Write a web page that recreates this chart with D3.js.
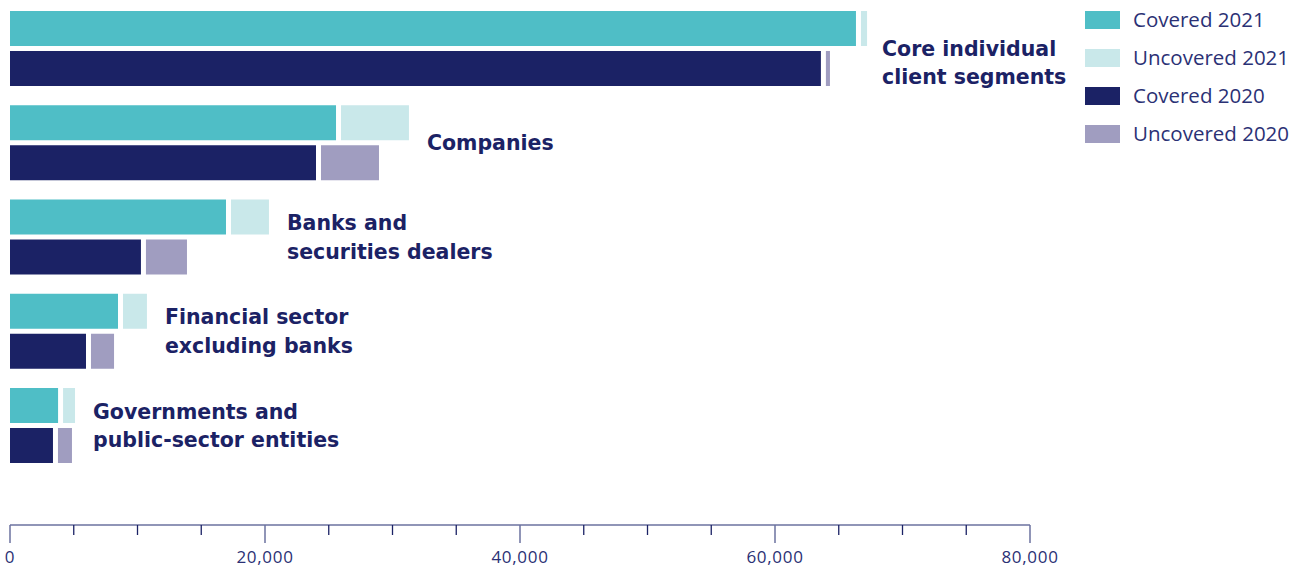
<!DOCTYPE html>
<html>
<head>
<meta charset="utf-8">
<script src="https://cdn.jsdelivr.net/npm/d3@7"></script>
<style>
  html, body { margin: 0; padding: 0; background: #ffffff; }
  svg { display: block; }
</style>
</head>
<body>
<svg id="chart" width="1304" height="570"></svg>
<script>
// Segment names and their lines of label text
const categories = [
  "Core individual client segments",
  "Companies",
  "Banks and securities dealers",
  "Financial sector excluding banks",
  "Governments and public-sector entities"
];
const categoryLines = [
  ["Core individual", "client segments"],
  ["Companies"],
  ["Banks and", "securities dealers"],
  ["Financial sector", "excluding banks"],
  ["Governments and", "public-sector entities"]
];

// Values per segment
const covered2021   = [66350, 25570, 16940, 8470, 3770];
const uncovered2021 = [870,   5720,  3370,  2270, 1330];
const covered2020   = [63600, 24000, 10270, 5960, 3370];
const uncovered2020 = [710,   4940,  3610,  2200, 1490];

const seriesNames = ["Covered 2021", "Uncovered 2021", "Covered 2020", "Uncovered 2020"];
const seriesColors = ["#4fbec6", "#c9e8ea", "#1b2265", "#a09dc0"];

const axisTicks = [0, 20000, 40000, 60000, 80000];
const minorTicks = d3.range(0, 80001, 5000);

const svg = d3.select("#chart");
const navy = "#1b2265";
const textColor = "#2b3175";

const x = d3.scaleLinear().domain([0, 80000]).range([10, 1030]);

const groupBand = d3.scaleBand()
  .domain(categories)
  .range([11, 482.25])
  .paddingInner(0)
  .paddingOuter(0);

const barH = 35;
const innerGap = 5;   // space between the 2021 and 2020 bars
const segGap = 5;     // white space separating covered and uncovered

const rows = categories.map((c, i) => ({
  cat: c, i,
  bars: [
    { cov: covered2021[i], unc: uncovered2021[i], cc: seriesColors[0], uc: seriesColors[1], y: groupBand(c) },
    { cov: covered2020[i], unc: uncovered2020[i], cc: seriesColors[2], uc: seriesColors[3], y: groupBand(c) + barH + innerGap }
  ]
}));

const g = svg.append("g");

rows.forEach(r => {
  r.bars.forEach(b => {
    g.append("rect")
      .attr("x", x(0))
      .attr("y", b.y)
      .attr("width", x(b.cov) - x(0))
      .attr("height", barH)
      .attr("fill", b.cc);
    g.append("rect")
      .attr("x", x(b.cov) + segGap)
      .attr("y", b.y)
      .attr("width", Math.max(0, x(b.cov + b.unc) - x(b.cov) - segGap))
      .attr("height", barH)
      .attr("fill", b.uc);
  });

  // Segment label sits just right of the longest bar
  const maxEnd = d3.max(r.bars, b => x(b.cov + b.unc));
  const lines = categoryLines[r.i];
  const center = groupBand(r.cat) + (2 * barH + innerGap) / 2;
  const lineH = 28.5;
  // first label drops half a line below its group centre
  const shift = r.i === 0 ? 14 : 0;
  const lx = maxEnd + (r.i === 0 ? 15 : 18);
  const t = g.append("text")
    .attr("x", lx)
    .attr("fill", navy)
    .attr("font-family", "'DejaVu Sans', sans-serif")
    .attr("font-weight", 700)
    .attr("font-size", 20.5);
  lines.forEach((ln, k) => {
    const cy = center + shift + (k - (lines.length - 1) / 2) * lineH;
    t.append("tspan")
      .attr("x", lx)
      .attr("y", cy)
      .attr("dy", "0.36em")
      .text(ln);
  });
});

// Axis
const axisY = 525;
const axisColor = "#6b729f";
const ax = svg.append("g").attr("transform", `translate(0,${axisY})`);
ax.append("line")
  .attr("x1", x(0)).attr("x2", x(80000))
  .attr("stroke", axisColor).attr("stroke-width", 1.5);
ax.selectAll("line.minor")
  .data(minorTicks.filter(v => !axisTicks.includes(v)))
  .join("line")
  .attr("class", "minor")
  .attr("x1", d => x(d)).attr("x2", d => x(d))
  .attr("y1", 0).attr("y2", 10)
  .attr("stroke", navy).attr("stroke-width", 1.3);
ax.selectAll("line.major")
  .data(axisTicks)
  .join("line")
  .attr("class", "major")
  .attr("x1", d => x(d)).attr("x2", d => x(d))
  .attr("y1", 0).attr("y2", 18)
  .attr("stroke", axisColor).attr("stroke-width", 1.5);
ax.selectAll("text")
  .data(axisTicks)
  .join("text")
  .attr("x", d => x(d))
  .attr("y", 38)
  .attr("text-anchor", "middle")
  .attr("fill", textColor)
  .attr("font-family", "'Open Sans', 'Noto Sans', sans-serif")
  .attr("font-size", 17)
  .attr("letter-spacing", 0.7)
  .text(d => d3.format(",")(d));

// Legend
const legend = svg.append("g").attr("transform", "translate(1085,11)");
seriesNames.forEach((name, i) => {
  const row = legend.append("g").attr("transform", `translate(0,${i * 38})`);
  row.append("rect").attr("width", 35).attr("height", 18).attr("fill", seriesColors[i]);
  row.append("text")
    .attr("x", 48)
    .attr("y", 9)
    .attr("dy", "0.36em")
    .attr("fill", textColor)
    .attr("font-family", "'Open Sans', 'Noto Sans', sans-serif")
    .attr("font-weight", 400)
    .attr("font-size", 20.5)
    .text(name);
});
</script>
</body>
</html>
